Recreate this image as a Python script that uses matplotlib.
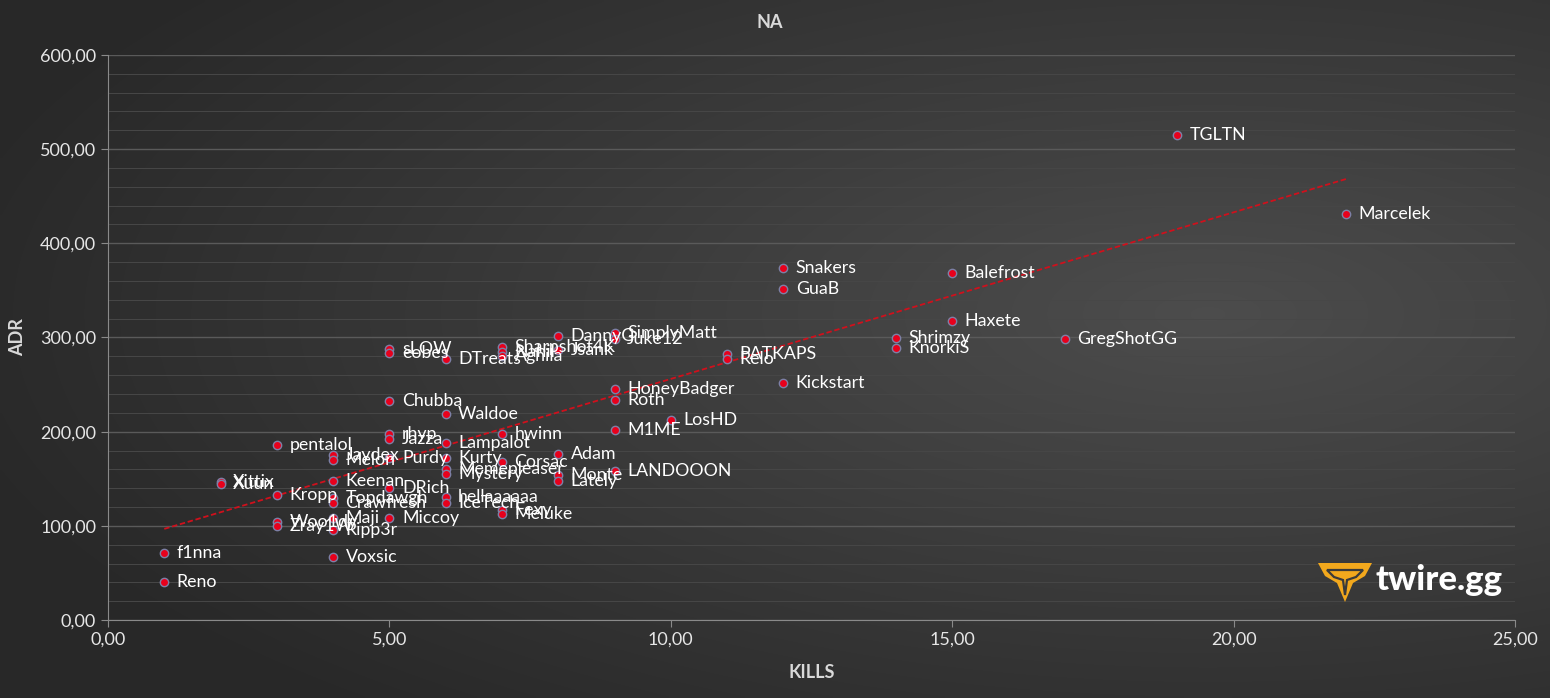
import numpy as np
import matplotlib
matplotlib.use('Agg')
import matplotlib.pyplot as plt
from matplotlib.ticker import FuncFormatter, MultipleLocator
from matplotlib.patches import Polygon

# player data
players = ['TGLTN', 'Marcelek', 'Snakers', 'GuaB', 'Balefrost', 'Haxete', 'Shrimzy',
           'KnorkiS', 'GregShotGG', 'PATKAPS', 'Relo', 'Kickstart', 'SimplyMatt', 'Juke12',
           'DannyG', 'Jsank', 'Sharpshot4K', 'Nahil', 'Aghila', 'sLOW', 'eobes', 'DTreats',
           'Chubba', 'Waldoe', 'rhyp', 'Jazza', 'Lampalot', 'hwinn', 'pentalol',
           'HoneyBadger', 'Roth', 'LosHD', 'M1ME', 'Adam', 'Corsac', 'LANDOOON', 'Jaydex',
           'Melon', 'Purdy', 'Kurty', 'Memepleaser', 'Mystery', 'Monte', 'Lately',
           'hellaaaaaa', 'IceTech', 'Fexy', 'Meluke', 'DRich', 'Keenan', 'Kropp',
           'Topdawgh', 'Crawfresh', 'Miccoy', 'Xittix', 'Xuun', 'Woo1dy', 'Zray1W',
           'Maji', 'Ripp3r', 'Voxsic', 'f1nna', 'Reno']
kills = [19, 22, 12, 12, 15, 15, 14,
         14, 17, 11, 11, 12, 9, 9,
         8, 8, 7, 7, 7, 5, 5, 6,
         5, 6, 5, 5, 6, 7, 3,
         9, 9, 10, 9, 8, 7, 9, 4,
         4, 5, 6, 6, 6, 8, 8,
         6, 6, 7, 7, 5, 4, 3,
         4, 4, 5, 2, 2, 3, 3,
         4, 4, 4, 1, 1]
adr = [515, 431, 374, 351, 368, 317, 299,
       289, 298, 282, 277, 252, 305, 298,
       302, 287, 290, 285, 280, 288, 284, 277,
       233, 219, 198, 192, 188, 198, 186,
       245, 234, 212, 202, 176, 168, 158, 175,
       170, 172, 172, 160, 155, 154, 148,
       131, 124, 117, 113, 140, 148, 133,
       130, 124, 108, 147, 144, 104, 100,
       108, 96, 67, 71, 40]

x_ticks = [0, 5, 10, 15, 20, 25]
y_ticks = [0, 100, 200, 300, 400, 500, 600]

W, H = 15.5, 6.98
fig = plt.figure(figsize=(W, H), dpi=100)

# dark gradient background
bg = fig.add_axes([0, 0, 1, 1], zorder=-10)
gx, gy = np.meshgrid(np.linspace(0, 1, 400), np.linspace(0, 1, 200))
d = np.sqrt(((gx - 0.78) / 1.0) ** 2 + ((gy - 0.45) / 0.9) ** 2)
shade = np.clip(0.30 - 0.17 * d, 0.16, 0.30)
bg.imshow(np.dstack([shade, shade, shade]), aspect='auto', extent=[0, 1, 0, 1],
          origin='upper', interpolation='bilinear')
bg.axis('off')

ax = fig.add_axes([108 / 1550, 1 - 620 / 698, (1515 - 108) / 1550, (620 - 55) / 698])
ax.patch.set_alpha(0)

ax.set_xlim(0, 25)
ax.set_ylim(0, 600)
ax.set_xticks(x_ticks)
ax.set_yticks(y_ticks)
ax.yaxis.set_minor_locator(MultipleLocator(20))
fmt = FuncFormatter(lambda v, p: f'{v:.2f}'.replace('.', ','))
ax.xaxis.set_major_formatter(fmt)
ax.yaxis.set_major_formatter(fmt)

ax.grid(axis='y', which='major', color='#5a5a5a', lw=1)
ax.grid(axis='y', which='minor', color='#474747', lw=0.7)
ax.set_axisbelow(True)
for s in ['top', 'right']:
    ax.spines[s].set_visible(False)
for s in ['left', 'bottom']:
    ax.spines[s].set_color('#8a8a8a')
ax.tick_params(which='major', colors='#8a8a8a', labelcolor='#e6e6e6', labelsize=13,
               length=5, direction='out')
ax.tick_params(which='minor', length=0)
for lab in ax.get_xticklabels() + ax.get_yticklabels():
    lab.set_family('Lato')

# trendline (linear fit)
k = np.array(kills, float)
a = np.array(adr, float)
m, b = np.polyfit(k, a, 1)
tx = np.array([1, 22])
ax.plot(tx, m * tx + b, color='#d0101c', lw=1.3, ls=(0, (3, 1.5)), zorder=2)

ax.scatter(kills, adr, s=36, color='#e8001c', edgecolor='#7d80a6', linewidth=1.0, zorder=3)
for name, x, y in zip(players, kills, adr):
    ax.annotate(name, (x, y), xytext=(9, 0), textcoords='offset points', va='center',
                ha='left', color='white', fontsize=12.8, family='Lato', zorder=4)

fig.text(770 / 1550, 1 - 22 / 698, 'NA', ha='center', va='center', color='#d9d9d9',
         fontsize=13, fontweight='bold', family='Lato')
fig.text(812 / 1550, 1 - 673 / 698, 'KILLS', ha='center', va='center', color='#d9d9d9',
         fontsize=13, fontweight='bold', family='Lato')
fig.text(18 / 1550, 1 - 337 / 698, 'ADR', ha='center', va='center', rotation=90,
         color='#d9d9d9', fontsize=13, fontweight='bold', family='Lato')

# twire.gg logo
def px(pts):
    return [(x / 1550, 1 - y / 698) for x, y in pts]

logo = Polygon(px([(1318, 563), (1372, 563), (1365, 576), (1353, 583), (1345, 602),
                   (1337, 583), (1325, 576)]), closed=True, facecolor='#f2a81d',
               edgecolor='none', transform=fig.transFigure, zorder=5)
fig.add_artist(logo)
cut = Polygon(px([(1327, 570), (1363, 570), (1356, 577), (1347, 580), (1345, 595),
                  (1343, 580), (1334, 577)]), closed=True, facecolor='none',
              edgecolor='#3a3a3a', lw=1.6, transform=fig.transFigure, zorder=6)
fig.add_artist(cut)
fig.text(1375 / 1550, 1 - 580 / 698, 'twire.gg', ha='left', va='center', color='white',
         fontsize=25, fontweight='black', family='Lato')

fig.savefig('out.png', dpi=100)
